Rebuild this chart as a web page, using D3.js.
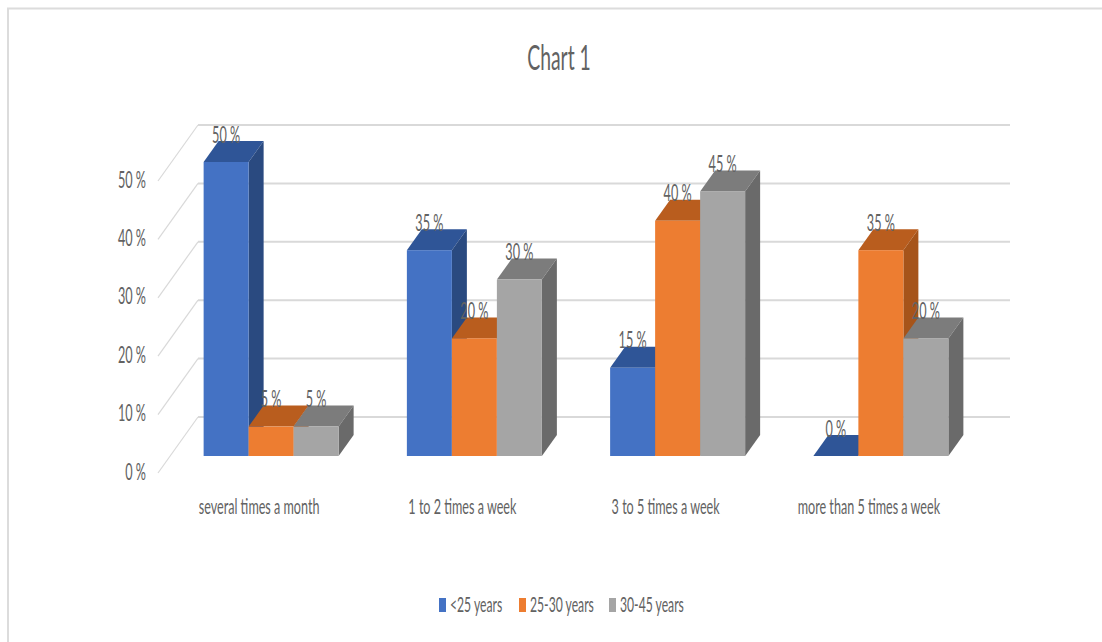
<!DOCTYPE html>
<html>
<head>
<meta charset="utf-8">
<script src="https://cdn.jsdelivr.net/npm/d3@7"></script>
<style>
  html, body { margin: 0; padding: 0; background: #fff; }
  svg { display: block; }
  text { font-family: Lato, "Open Sans", sans-serif; font-weight: 400; fill: #626262; }
</style>
</head>
<body>
<svg id="chart" width="1102" height="642"></svg>
<script>
// Weekly frequency by age group, shown as pseudo-3D clustered columns.
const title = "Chart 1";
const categories = ["several times a month", "1 to 2 times a week", "3 to 5 times a week", "more than 5 times a week"];
const seriesNames = ["<25 years", "25-30 years", "30-45 years"];
const under25 = [50, 35, 15, 0];
const from25to30 = [5, 20, 40, 35];
const from30to45 = [5, 30, 45, 20];
const seriesValues = [under25, from25to30, from30to45];
const yTicks = [0, 10, 20, 30, 40, 50];

const palette = [
  { front: "#4472c4", top: "#2f5597", side: "#2a4a80" },
  { front: "#ed7d31", top: "#b95d1e", side: "#a6541a" },
  { front: "#a5a5a5", top: "#7c7c7c", side: "#6a6a6a" }
];

const svg = d3.select("#chart");
const percent = d => d + " %";

// Horizontally condensed text, anchored at x/y.
function label(parent, str, x, y, size, anchor, squeeze) {
  return parent.append("text")
    .attr("transform", `translate(${x},${y}) scale(${squeeze},1)`)
    .attr("text-anchor", anchor)
    .attr("dominant-baseline", "central")
    .style("font-size", size + "px")
    .text(str);
}

// Frame along the top and left edges.
svg.append("path")
  .attr("d", "M8,642V8.5H1102")
  .attr("fill", "none").attr("stroke", "#dcdcdc").attr("stroke-width", 2);

label(svg, title, 559, 57, 34, "middle", 0.57);

// Value scales for the back wall, the column fronts and the axis labels.
const yBack = d3.scaleLinear().domain([0, 50]).range([417, 125]);
const yFront = d3.scaleLinear().domain([0, 50]).range([456, 162]);
const yAxisScale = d3.scaleLinear().domain([0, 50]).range([473, 181]);

const x0 = d3.scaleBand().domain(categories).range([169.5, 982.5]);
const x1 = d3.scaleBand().domain(seriesNames).range([0, 135]);
const depthX = 15, depthY = 21;

// Back wall gridlines and the diagonal side-wall lines.
const grid = svg.append("g").attr("fill", "none").attr("stroke", "#d9d9d9");
grid.selectAll("path.wall").data(yTicks).join("path")
  .attr("class", "wall")
  .attr("stroke-width", 2)
  .attr("d", d => `M198,${yBack(d)}H1010`);
grid.selectAll("path.diag").data(yTicks).join("path")
  .attr("class", "diag")
  .attr("stroke-width", 1.2)
  .attr("d", d => `M158,${yAxisScale(d)}L198,${yBack(d)}`);

// Value axis: labels only.
const axis = svg.append("g").attr("transform", "translate(146,0)");
yTicks.forEach(t => label(axis, percent(t), 0, yAxisScale(t) - 2, 23, "end", 0.55));

// Columns, drawn left to right so later fronts overlap earlier sides.
const groups = svg.selectAll("g.cluster").data(categories).join("g")
  .attr("class", "cluster")
  .attr("transform", d => `translate(${x0(d) + (x0.bandwidth() - 135) / 2},0)`);

groups.each(function (cat, ci) {
  const g = d3.select(this);
  seriesNames.forEach((name, si) => {
    const v = seriesValues[si][ci];
    const xl = x1(name), w = x1.bandwidth();
    const yt = yFront(v), yb = yFront(0);
    const c = palette[si];
    g.append("path").attr("fill", c.top)
      .attr("d", `M${xl},${yt}l${depthX},${-depthY}h${w}l${-depthX},${depthY}Z`);
    g.append("path").attr("fill", c.side)
      .attr("d", `M${xl + w},${yt}l${depthX},${-depthY}V${yb - depthY}l${-depthX},${depthY}Z`);
    g.append("rect").attr("fill", c.front)
      .attr("x", xl).attr("y", yt).attr("width", w).attr("height", yb - yt);
  });
});

// Value labels go last so they sit over every column.
groups.each(function (cat, ci) {
  const g = d3.select(this);
  seriesNames.forEach((name, si) => {
    const v = seriesValues[si][ci];
    label(g, percent(v), x1(name) + x1.bandwidth() / 2, yFront(v) - 28, 23, "middle", 0.55);
  });
});

// Category labels.
categories.forEach(c => label(svg, c, x0(c) + x0.bandwidth() / 2 - 12, 506, 21, "middle", 0.6));

// Legend.
const legendX = [439, 519, 609];
seriesNames.forEach((name, i) => {
  svg.append("rect").attr("x", legendX[i]).attr("y", 598).attr("width", 7).attr("height", 14)
    .attr("fill", palette[i].front);
  label(svg, name, legendX[i] + 11, 604, 21, "start", 0.58);
});
</script>
</body>
</html>
